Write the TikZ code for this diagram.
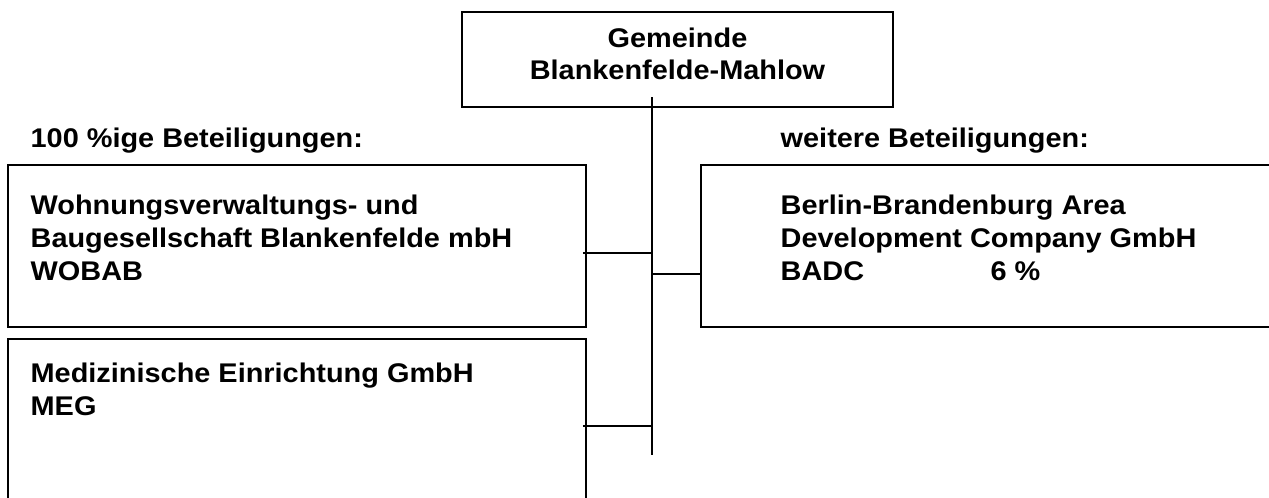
\documentclass[tikz,border=0pt]{standalone}
\usepackage{fontspec}
\setmainfont{Liberation Sans}[FakeStretch=1.07]
\usepackage{tikz}
\usetikzlibrary{positioning}

\begin{document}
\begin{tikzpicture}[x=0.75pt, y=-0.75pt, line width=1pt,
      every node/.style={font=\bfseries\fontsize{20.25}{24.75}\selectfont, inner sep=0pt},
      orgbox/.style={draw, line width=1.2pt, minimum width=578*0.75pt, minimum height=162*0.75pt},
      orgtext/.style={anchor=base west, align=left}]
      % pixel units, origin at upper left corner of the page
      % multi-line texts sit on the baseline of their last line
      \useasboundingbox (0, 0) rectangle (1269, 497);
      \clip (0, 0) rectangle (1269, 497);
      \def\trunk{652}
       \node [draw, line width=1.2pt, minimum width=431*0.75pt, minimum height=95*0.75pt] (gemeinde) at (677.5, 59.5) {};
       \node [anchor=base, align=center, font=\bfseries\fontsize{20.25}{23.5}\selectfont] (gemeindetext) at (677.5, 79) {Gemeinde\\Blankenfelde-Mahlow};

       \node [orgtext] (linkskopf) at (30, 147) {100 \%ige Beteiligungen:};
       \node [orgtext] (rechtskopf) at (780, 147) {weitere Beteiligungen:};

       \node [orgbox] (wobab) at (297, 246) {};
       \node [orgtext] (wobabtext) at (30, 280) {Wohnungsverwaltungs- und\\Baugesellschaft Blankenfelde mbH\\WOBAB};

       \node [orgbox, minimum height=261*0.75pt] (meg) at (297, 469.5) {};
       \node [orgtext] (megtext) at (30, 415) {Medizinische Einrichtung GmbH\\MEG};

       \node [orgbox, minimum width=699*0.75pt] (badc) at (1050.5, 246) {};
       \node [orgtext] (badctext) at (780, 280) {Berlin-Brandenburg Area\\Development Company GmbH\\\makebox[157.5pt][l]{BADC}6 \%};

       \coordinate (trunktop) at (\trunk, 97);
       \coordinate (trunkend) at (\trunk, 455);
       \coordinate (j1) at (\trunk, 253);
       \coordinate (j2) at (\trunk, 274);
       \coordinate (j3) at (\trunk, 426);
       \draw (trunktop) -- (trunkend);
       \draw ([xshift=-3pt]wobab.east |- j1) -- (j1);
       \draw (j2) -- (badc.west |- j2);
       \draw ([xshift=-3pt]meg.east |- j3) -- (j3);
\end{tikzpicture}
\end{document}
